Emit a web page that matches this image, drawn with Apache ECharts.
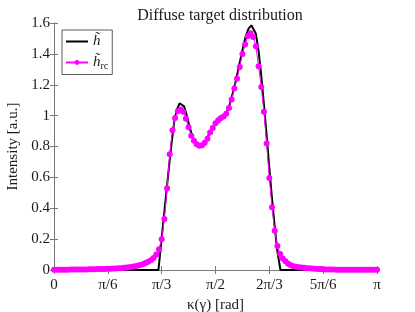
<!DOCTYPE html>
<html>
<head>
<meta charset="utf-8">
<script src="https://cdn.jsdelivr.net/npm/echarts@6/dist/echarts.min.js"></script>
<style>html,body{margin:0;padding:0;background:#fff}#c{width:415px;height:312px}</style>
</head>
<body>
<div id="c"></div>
<script>
// kappa in degrees (0..180 == 0..pi)
const kappaRc = [0,1.5,3,4.5,6,7.5,9,10.5,12,13.5,15,16.5,18,19.5,21,22.5,24,25.5,27,28.5,
30,31.5,33,34.5,36,37.5,39,40.5,42,43.5,45,46.5,48,49.5,51,52.5,54,55.5,57,58.5,
60,61.5,63,64.5,66,67.5,69,70.5,72,73.5,75,76.5,78,79.5,81,82.5,84,85.5,87,88.5,
90,91.5,93,94.5,96,97.5,99,100.5,102,103.5,105,106.5,108,109.5,111,112.5,114,115.5,117,118.5,
120,121.5,123,124.5,126,127.5,129,130.5,132,133.5,135,136.5,138,139.5,141,142.5,144,145.5,147,148.5,
150,151.5,153,154.5,156,157.5,159,160.5,162,163.5,165,166.5,168,169.5,171,172.5,174,175.5,177,178.5,180];
const hRc = [0.002,0.002,0.002,0.002,0.002,0.002,0.003,0.003,0.003,0.003,0.004,0.004,0.004,0.005,0.005,0.005,0.006,0.006,0.007,0.007,
0.008,0.008,0.009,0.010,0.011,0.012,0.014,0.016,0.018,0.021,0.024,0.028,0.032,0.038,0.045,0.053,0.063,0.077,0.100,0.135,
0.200,0.330,0.530,0.750,0.905,0.985,1.028,1.040,1.025,0.980,0.925,0.870,0.838,0.815,0.805,0.808,0.825,0.850,0.890,0.920,
0.950,0.970,0.985,0.995,1.012,1.050,1.105,1.175,1.240,1.315,1.400,1.460,1.515,1.533,1.510,1.450,1.320,1.185,1.025,0.820,
0.596,0.406,0.255,0.156,0.104,0.075,0.056,0.040,0.030,0.025,0.021,0.018,0.016,0.014,0.012,0.011,0.009,0.008,0.007,0.006,
0.005,0.004,0.004,0.003,0.003,0.002,0.002,0.002,0.002,0.002,0.002,0.002,0.002,0.002,0.002,0.002,0.002,0.002,0.002,0.002,0.002];
const kappaH = [0,58.2,59.5,61,62.5,64,65.5,67,68.5,70,71,72.5,74,75.5,77,78.5,80,81.5,83,84.5,86,87.5,89,90.5,92,93.5,95,96.5,98,99.5,
101,102.5,104,105.5,107,108.5,110,111,112.5,114,115.5,117,118.5,120,121.5,123,124.5,126.2,180];
const hVal = [0,0,0.15,0.32,0.49,0.66,0.82,0.96,1.04,1.08,1.085,1.06,1.0,0.93,0.87,0.83,0.81,0.80,0.81,0.835,0.87,0.905,0.935,0.955,0.975,0.99,1.005,1.03,1.075,1.14,
1.21,1.29,1.37,1.45,1.52,1.565,1.585,1.58,1.53,1.42,1.26,1.07,0.87,0.66,0.46,0.28,0.12,0,0];
const xTickLabels = ['0','π/6','π/3','π/2','2π/3','5π/6','π'];
const yTicks = [0,0.2,0.4,0.6,0.8,1,1.2,1.4,1.6];

const FONT = '"Liberation Serif", "DejaVu Serif", serif';
const AX = '#7a7a7a';
const TXT = '#1a1a1a';
const chart = echarts.init(document.getElementById('c'), null, {renderer: 'canvas'});
const xBase = {type:'value', min:0, max:180, interval:30,
  axisLine:{show:true,lineStyle:{color:AX,width:1}},
  axisTick:{show:true,inside:true,length:4,lineStyle:{color:AX}},
  splitLine:{show:false}};
const yBase = {type:'value', min:0, max:1.6, interval:0.2,
  axisLine:{show:true,lineStyle:{color:AX,width:1}},
  axisTick:{show:true,inside:true,length:4,lineStyle:{color:AX}},
  splitLine:{show:false}};
chart.setOption({
  animation:false,
  title:{text:'Diffuse target distribution', left:215, top:3, textAlign:'center',
    textStyle:{fontFamily:FONT, fontSize:16, fontWeight:'normal', color:TXT}},
  grid:{left:54, right:38, top:23, bottom:42, containLabel:false, outerBoundsMode:'none'},
  legend:{orient:'vertical', left:62, top:30, padding:[4,4,3,3], itemGap:6, itemWidth:22, itemHeight:6,
    borderColor:'#333', borderWidth:0.8, backgroundColor:'#fff',
    formatter: n => n === 'h' ? '{a|h\u0303}' : '{a|h\u0303}{b|rc}',
    textStyle:{fontFamily:FONT, color:TXT, rich:{
      a:{fontFamily:FONT, fontSize:15, fontStyle:'italic', color:TXT, lineHeight:18},
      b:{fontFamily:FONT, fontSize:10, color:TXT, padding:[8,0,0,0]}}},
    data:[{name:'h', itemStyle:{opacity:0}}, {name:'hrc'}]},
  xAxis:[Object.assign({}, xBase, {position:'bottom',
      name:'κ(γ) [rad]', nameLocation:'middle', nameGap:25,
      nameTextStyle:{fontFamily:FONT, fontSize:15, color:TXT},
      axisLabel:{fontFamily:FONT, fontSize:15, color:TXT, margin:8,
        formatter: v => xTickLabels[Math.round(v/30)]}}),
    Object.assign({}, xBase, {position:'top', axisLabel:{show:false}})],
  yAxis:[Object.assign({}, yBase, {position:'left',
      name:'Intensity [a.u.]', nameLocation:'middle', nameGap:26,
      nameTextStyle:{fontFamily:FONT, fontSize:15, color:TXT},
      axisLabel:{fontFamily:FONT, fontSize:15, color:TXT, margin:4,
        formatter: v => { const r = yTicks.find(t => Math.abs(t - v) < 1e-6); return String(r === undefined ? v : r); }}}),
    Object.assign({}, yBase, {position:'right', axisLabel:{show:false}})],
  series:[
    {name:'h', type:'line', xAxisIndex:0, yAxisIndex:0, showSymbol:false, symbol:'none',
      lineStyle:{color:'#000', width:2}, itemStyle:{color:'#000'},
      data: kappaH.map((k,i) => [k, hVal[i]])},
    {name:'hrc', type:'line', xAxisIndex:0, yAxisIndex:0, symbol:'circle', symbolSize:6, showAllSymbol:true,
      lineStyle:{color:'#ff00ff', width:1}, itemStyle:{color:'#ff00ff'},
      data: kappaRc.map((k,i) => [k, hRc[i]])}
  ]
});
</script>
</body>
</html>
